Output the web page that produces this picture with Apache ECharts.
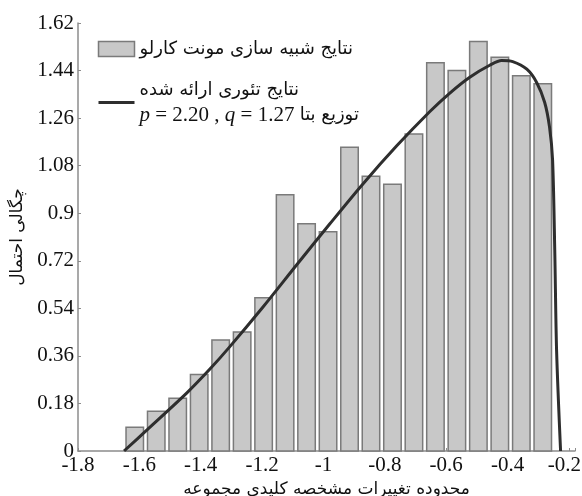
<!DOCTYPE html>
<html>
<head>
<meta charset="utf-8">
<script src="https://cdn.jsdelivr.net/npm/echarts@6/dist/echarts.min.js"></script>
<style>
html,body{margin:0;padding:0;background:#fff;overflow:hidden;}
#chart{width:582px;height:496px;}
</style>
</head>
<body>
<div id="chart"></div>
<script>
// ---- data ----
const binLeft = [-1.65,-1.58,-1.51,-1.44,-1.37,-1.30,-1.23,-1.16,-1.09,-1.02,-0.95,-0.88,-0.81,-0.74,-0.67,-0.60,-0.53,-0.46,-0.39,-0.32];
const binWidth = 0.07;
const binDensity = [0.09,0.15,0.20,0.29,0.42,0.45,0.58,0.97,0.86,0.83,1.15,1.04,1.01,1.20,1.47,1.44,1.55,1.49,1.42,1.39];
const curveX = [-1.650,-1.575,-1.445,-1.370,-1.305,-1.197,-1.087,-0.979,-0.872,-0.761,-0.653,-0.588,-0.523,-0.458,-0.419,-0.383,-0.337,-0.305,-0.279,-0.263,-0.253,-0.246,-0.240,-0.227];
const curveY = [0,0.08,0.22,0.31,0.395,0.545,0.705,0.86,1.01,1.155,1.285,1.355,1.415,1.46,1.478,1.474,1.445,1.395,1.32,1.226,1.10,0.76,0.38,0];
const xTicks = [-1.8,-1.6,-1.4,-1.2,-1,-0.8,-0.6,-0.4,-0.2];
const yTicks = [0,0.18,0.36,0.54,0.72,0.9,1.08,1.26,1.44,1.62];
const nameBars = 'نتایج شبیه سازی مونت کارلو';
const nameCurve = 'نتایج تئوری ارائه شده';
const curveParamText = 'توزیع بتا';
const xTitle = 'محدوده تغییرات مشخصه کلیدي مجموعه';
const yTitle = 'چگالی احتمال';

const barData = binLeft.map((l, i) => [l, l + binWidth, binDensity[i]]);
const curveData = curveX.map((x, i) => [x, curveY[i]]);

const serif = "'Liberation Serif', 'DejaVu Serif', serif";
const arabic = "'DejaVu Sans', 'Noto Sans', sans-serif";
const axisGray = '#8c8c8c';

const el = document.getElementById('chart');
const chart = echarts.init(el, null, {renderer: 'canvas', width: 582, height: 496});
chart.setOption({
  animation: false,
  backgroundColor: '#fff',
  grid: {left: 78, right: 7, top: 23, bottom: 45, containLabel: false, outerBoundsMode: 'none'},
  legend: {
    orient: 'vertical',
    left: 92, top: 35,
    itemWidth: 36, itemHeight: 15,
    itemGap: 23,
    textStyle: {fontFamily: arabic, fontSize: 18, color: '#111',
      rich: {
        ar: {fontFamily: arabic, fontSize: 18, color: '#111', lineHeight: 25},
        it: {fontFamily: serif, fontStyle: 'italic', fontSize: 21, color: '#111', lineHeight: 25},
        num: {fontFamily: serif, fontSize: 21, color: '#111', lineHeight: 25}
      }
    },
    formatter: function (n) {
      if (n === nameCurve) {
        return '{ar|' + nameCurve + '}\n{it|p}{num| = 2.20 , }{it|q}{num| = 1.27 }{ar|' + curveParamText + '}';
      }
      return n;
    },
    data: [
      {name: nameBars, icon: 'rect', itemStyle: {color: '#c8c8c8', borderColor: '#7a7a7a', borderWidth: 1.5}},
      {name: nameCurve, itemStyle: {color: 'rgba(0,0,0,0)', borderWidth: 0, opacity: 0},
       lineStyle: {color: '#2e2e2e', width: 3}}
    ]
  },
  xAxis: {
    type: 'value',
    min: xTicks[0], max: -0.18, interval: 0.2,
    name: xTitle, nameLocation: 'middle', nameGap: 28,
    nameTextStyle: {fontFamily: arabic, fontSize: 17, color: '#111'},
    axisLine: {show: true, lineStyle: {color: axisGray, width: 1.5}},
    axisTick: {show: true, inside: true, length: 3, lineStyle: {color: axisGray}},
    splitLine: {show: false},
    axisLabel: {
      fontFamily: serif, fontSize: 21, color: '#111', margin: 4,
      rich: {e: {fontFamily: serif, fontSize: 21, color: '#111', padding: [0, 9, 0, 0]}},
      formatter: function (v) {
        const r = Math.round(v * 10) / 10;
        if (Math.abs(v - r) > 0.005) { return ''; }
        if (r === xTicks[xTicks.length - 1]) { return '{e|' + r + '}'; }
        return xTicks.indexOf(r) >= 0 ? String(r) : '';
      }
    }
  },
  yAxis: {
    type: 'value',
    min: yTicks[0], max: yTicks[yTicks.length - 1], interval: 0.18,
    name: yTitle, nameLocation: 'middle', nameGap: 47, nameRotate: 90,
    nameTextStyle: {fontFamily: arabic, fontSize: 17, color: '#111'},
    axisLine: {show: true, lineStyle: {color: axisGray, width: 1.5}},
    axisTick: {show: true, inside: true, length: 3, lineStyle: {color: axisGray}},
    splitLine: {show: false},
    axisLabel: {fontFamily: serif, fontSize: 21, color: '#111', margin: 4,
      formatter: function (v) { return String(Math.round(v * 100) / 100); }}
  },
  series: [
    {
      name: nameBars,
      type: 'custom',
      itemStyle: {color: '#c8c8c8', borderColor: '#7a7a7a', borderWidth: 1.5},
      encode: {x: [0, 1], y: 2},
      data: barData,
      renderItem: function (params, api) {
        const p0 = api.coord([api.value(0), api.value(2)]);
        const p1 = api.coord([api.value(1), 0]);
        const gap = 2;
        return {
          type: 'rect',
          shape: {x: p0[0] + gap, y: p0[1], width: p1[0] - p0[0] - 2 * gap, height: p1[1] - p0[1]},
          style: {fill: '#c8c8c8', stroke: '#7a7a7a', lineWidth: 1.5}
        };
      },
      z: 2
    },
    {
      name: nameCurve,
      type: 'line',
      data: curveData,
      symbol: 'none',
      smooth: 0.3,
      lineStyle: {color: '#2e2e2e', width: 3},
      itemStyle: {color: '#2e2e2e'},
      z: 5
    }
  ]
});
</script>
</body>
</html>
